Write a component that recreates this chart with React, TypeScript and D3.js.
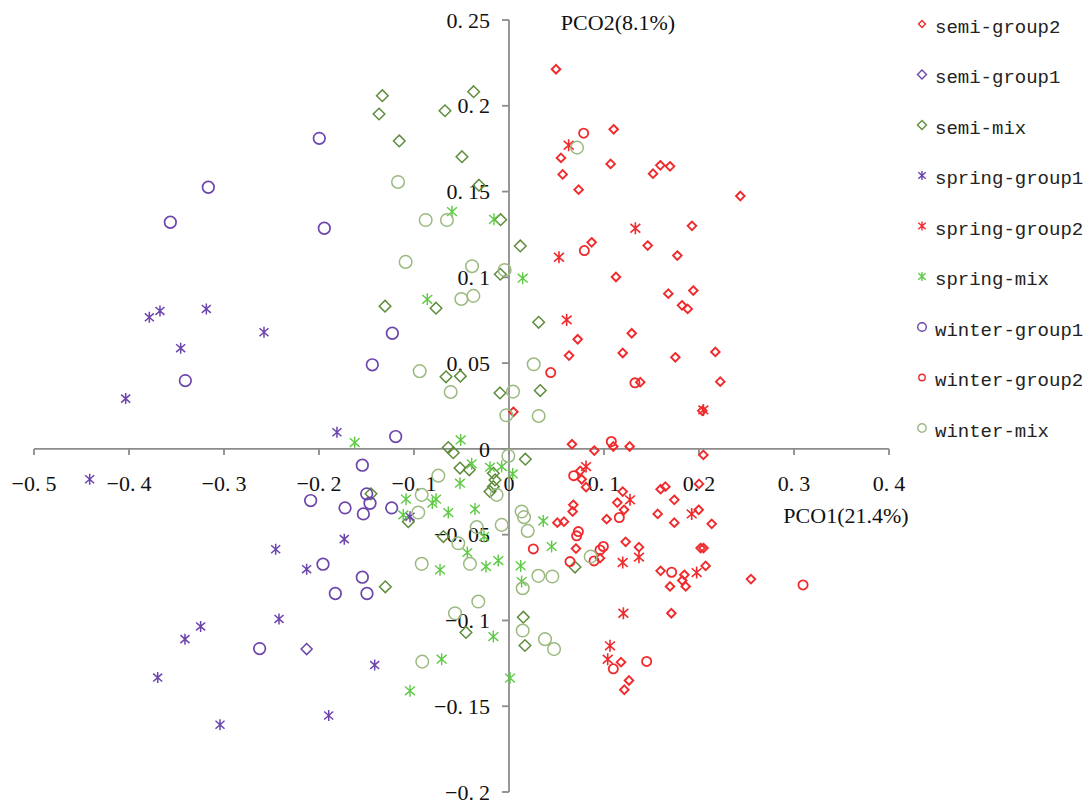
import React from 'react'
import * as d3 from 'd3'

type Pt = [number, number]

// PCO1, PCO2 scores
const semiGroup2: Pt[] = [
  [0.0495, 0.2213], [0.1102, 0.1863], [0.0547, 0.1696], [0.0565, 0.16], [0.0733, 0.1511],
  [0.107, 0.1661], [0.1593, 0.1653], [0.1695, 0.1647], [0.1516, 0.1604], [0.2435, 0.1474],
  [0.1926, 0.13], [0.087, 0.1204], [0.146, 0.1185], [0.1772, 0.1127], [0.1126, 0.1002],
  [0.194, 0.0923], [0.1677, 0.0905], [0.1821, 0.0837], [0.1881, 0.0816], [0.1292, 0.0674],
  [0.0723, 0.0639], [0.0632, 0.0544], [0.1197, 0.0559], [0.1751, 0.0534], [0.2172, 0.0565],
  [0.2224, 0.0392], [0.1382, 0.0389], [0.0046, 0.0216], [0.2035, 0.0222], [0.0663, 0.0027],
  [0.0898, -0.001], [0.1098, 0.0014], [0.127, 0.0014], [0.2046, -0.0035], [0.075, -0.0128],
  [0.0765, -0.0177], [0.0811, -0.0223], [0.1197, -0.0249], [0.114, -0.0313], [0.1211, -0.0355],
  [0.1028, -0.041], [0.0677, -0.0326], [0.067, -0.0365], [0.0509, -0.043], [0.0579, -0.0424],
  [0.1596, -0.0235], [0.1646, -0.022], [0.174, -0.0297], [0.2, -0.0204], [0.1997, -0.0355],
  [0.1565, -0.0379], [0.174, -0.043], [0.2134, -0.0437], [0.0705, -0.0581], [0.1228, -0.0542],
  [0.1368, -0.0573], [0.2017, -0.0578], [0.2047, -0.0578], [0.0958, -0.0637], [0.207, -0.0682],
  [0.1596, -0.0711], [0.1846, -0.0734], [0.1824, -0.0767], [0.186, -0.0802], [0.1695, -0.0802],
  [0.2547, -0.0759], [0.1709, -0.0958], [0.1179, -0.1243], [0.1263, -0.135], [0.1214, -0.1404],
]

const semiGroup1: Pt[] = [[-0.213, -0.1167]]

const semiMix: Pt[] = [
  [-0.1333, 0.2059], [-0.1368, 0.1952], [-0.0372, 0.2082], [-0.0674, 0.1971], [-0.1155, 0.1795],
  [-0.0495, 0.1703], [-0.0316, 0.1537], [-0.0088, 0.1336], [0.0119, 0.1183], [-0.0091, 0.1018],
  [-0.1305, 0.0832], [-0.0768, 0.082], [0.0312, 0.0738], [-0.0663, 0.042], [-0.0512, 0.0424],
  [-0.0095, 0.0326], [0.0329, 0.034], [-0.0639, 0.0008], [-0.0586, -0.0022], [0.0172, -0.006],
  [-0.0516, -0.0112], [-0.0418, -0.0122], [-0.0165, -0.0142], [-0.0147, -0.0181], [-0.0165, -0.022],
  [-0.02, -0.0249], [-0.106, -0.0424], [-0.1453, -0.0262], [-0.1302, -0.0804], [-0.0691, -0.0511],
  [-0.0453, -0.107], [0.0151, -0.0981], [0.0168, -0.1146], [0.0695, -0.0689],
]

const springGroup1: Pt[] = [
  [-0.3786, 0.0767], [-0.3674, 0.0804], [-0.3186, 0.0816], [-0.2579, 0.068], [-0.3456, 0.0587],
  [-0.4035, 0.0293], [-0.1811, 0.0097], [-0.4414, -0.0177], [-0.1734, -0.0526], [-0.2456, -0.0585],
  [-0.213, -0.0701], [-0.2421, -0.0991], [-0.3246, -0.1035], [-0.3411, -0.1109], [-0.1414, -0.126],
  [-0.3698, -0.1333], [-0.1898, -0.1554], [-0.3042, -0.1608], [-0.1042, -0.0395],
]

const springGroup2: Pt[] = [
  [0.0628, 0.177], [0.0526, 0.1117], [0.0607, 0.0752], [0.133, 0.1286], [0.2046, 0.0227],
  [0.0811, -0.0103], [0.1274, -0.0297], [0.1923, -0.0379], [0.1197, -0.0662], [0.1368, -0.0631],
  [0.1975, -0.0721], [0.1204, -0.0958], [0.1063, -0.1148], [0.1039, -0.1226],
]

const springMix: Pt[] = [
  [-0.06, 0.1383], [-0.0158, 0.1338], [0.0144, 0.0995], [-0.086, 0.0872], [-0.1624, 0.0037],
  [-0.0509, 0.0052], [-0.0393, -0.0087], [-0.02, -0.0107], [-0.0077, -0.0103], [0.0039, -0.0146],
  [-0.0516, -0.02], [-0.1084, -0.0293], [-0.0768, -0.0293], [-0.0807, -0.0316], [-0.0639, -0.0371],
  [-0.0358, -0.0351], [-0.1113, -0.0385], [0.0361, -0.042], [0.0449, -0.0569], [-0.0263, -0.0511],
  [-0.0439, -0.0604], [-0.0113, -0.0651], [-0.0726, -0.0705], [-0.0242, -0.0686], [0.0123, -0.0682],
  [0.0133, -0.0773], [-0.0165, -0.1094], [-0.0709, -0.1226], [-0.1042, -0.141], [0.0011, -0.1336],
]

const winterGroup1: Pt[] = [
  [-0.1997, 0.181], [-0.3165, 0.1525], [-0.3565, 0.1321], [-0.1944, 0.1286], [-0.1228, 0.0674],
  [-0.1439, 0.049], [-0.3407, 0.0398], [-0.1193, 0.0072], [-0.1544, -0.0095], [-0.2088, -0.0301],
  [-0.1498, -0.0262], [-0.1463, -0.0317], [-0.1726, -0.0344], [-0.1533, -0.0379], [-0.1235, -0.0344],
  [-0.1958, -0.0672], [-0.1544, -0.0748], [-0.1828, -0.0843], [-0.1495, -0.0843], [-0.2625, -0.1164],
]

const winterGroup2: Pt[] = [
  [0.0786, 0.184], [0.0793, 0.1156], [0.0439, 0.0445], [0.1077, 0.0043], [0.1326, 0.0385],
  [0.0681, -0.0156], [0.073, -0.0482], [0.0712, -0.0507], [0.0895, -0.0653], [0.0993, -0.0569],
  [0.0958, -0.0589], [0.0642, -0.0657], [0.1712, -0.0719], [0.1161, -0.04], [0.1098, -0.1282],
  [0.1449, -0.1239], [0.3095, -0.0793], [0.0256, -0.0583],
]

const winterMix: Pt[] = [
  [0.0716, 0.1756], [-0.1168, 0.1556], [-0.0877, 0.1334], [-0.0653, 0.1334], [-0.1088, 0.109],
  [-0.0389, 0.1065], [-0.0046, 0.1043], [-0.0502, 0.0874], [-0.0375, 0.0892], [-0.094, 0.0453],
  [-0.0614, 0.0332], [0.026, 0.0493], [0.0042, 0.0334], [-0.0028, 0.0196], [0.0312, 0.0192],
  [-0.0007, -0.0041], [-0.0744, -0.0156], [-0.0919, -0.0268], [-0.0955, -0.0371], [-0.013, -0.0268],
  [0.0133, -0.0365], [0.0158, -0.0398], [-0.0077, -0.0443], [0.0197, -0.0478], [-0.034, -0.0456],
  [-0.0534, -0.055], [-0.0919, -0.067], [-0.0411, -0.067], [0.0309, -0.074], [0.0456, -0.0744],
  [-0.0323, -0.089], [-0.0568, -0.0958], [0.0144, -0.0812], [0.0144, -0.1059], [0.0379, -0.1109],
  [0.0474, -0.1167], [-0.0913, -0.124], [0.086, -0.0628],
]

const xTicks = [-0.5, -0.4, -0.3, -0.2, -0.1, 0, 0.1, 0.2, 0.3, 0.4]
const yTicks = [-0.2, -0.15, -0.1, -0.05, 0, 0.05, 0.1, 0.15, 0.2, 0.25]
const xTitle = 'PCO1(21.4%)'
const yTitle = 'PCO2(8.1%)'

const RED = '#f02a2c'
const PURPLE = '#6b44ac'
const DKGREEN = '#5e8d3c'
const GREEN = '#5fca45'
const LTGREEN = '#9bba80'

type Shape = 'diamond' | 'star' | 'circle'
const series: { name: string; data: Pt[]; shape: Shape; color: string; r: number; sw: number; lr: number }[] = [
  { name: 'semi-group2', data: semiGroup2, shape: 'diamond', color: RED, r: 4.3, sw: 1.9, lr: 3.5 },
  { name: 'semi-group1', data: semiGroup1, shape: 'diamond', color: PURPLE, r: 5.5, sw: 1.5, lr: 4.5 },
  { name: 'semi-mix', data: semiMix, shape: 'diamond', color: DKGREEN, r: 5.8, sw: 1.5, lr: 4.5 },
  { name: 'spring-group1', data: springGroup1, shape: 'star', color: PURPLE, r: 5.5, sw: 1.5, lr: 4.5 },
  { name: 'spring-group2', data: springGroup2, shape: 'star', color: RED, r: 6, sw: 1.6, lr: 4.5 },
  { name: 'spring-mix', data: springMix, shape: 'star', color: GREEN, r: 6, sw: 1.4, lr: 4.5 },
  { name: 'winter-group1', data: winterGroup1, shape: 'circle', color: PURPLE, r: 5.8, sw: 1.7, lr: 4.3 },
  { name: 'winter-group2', data: winterGroup2, shape: 'circle', color: RED, r: 4.6, sw: 1.8, lr: 3.2 },
  { name: 'winter-mix', data: winterMix, shape: 'circle', color: LTGREEN, r: 6.3, sw: 1.5, lr: 4.2 },
]

const W = 1089
const H = 805
const x = d3.scaleLinear().domain([-0.5, 0.4]).range([34, 889])
const y = d3.scaleLinear().domain([-0.2, 0.25]).range([792, 20])

function markerPath(shape: Shape, r: number) {
  const p = d3.path()
  if (shape === 'diamond') {
    p.moveTo(0, -r); p.lineTo(r, 0); p.lineTo(0, r); p.lineTo(-r, 0); p.closePath()
  } else if (shape === 'circle') {
    p.arc(0, 0, r, 0, Math.PI * 2)
  } else {
    const dx = r * 0.82, dy = r * 0.72
    p.moveTo(0, -r); p.lineTo(0, r)
    p.moveTo(-dx, -dy); p.lineTo(dx, dy)
    p.moveTo(-dx, dy); p.lineTo(dx, -dy)
  }
  return p.toString()
}

function TickLabel({ v, ...rest }: any) {
  const s = Math.abs(v).toString()
  const sign = v < 0 ? '\u2212' : ''
  const [ip, fp] = s.split('.')
  return (
    <text {...rest}>
      {sign}{ip}{fp ? <>.<tspan dx={5}>{fp}</tspan></> : null}
    </text>
  )
}

export default function App() {
  const x0 = x(0)
  const y0 = y(0)
  const axisColor = '#8c8c8c'
  const font = '"Liberation Serif", "Times New Roman", serif'
  return (
    <svg width={W} height={H} style={{ position: 'absolute', left: 0, top: 0, background: '#fff' }}>
      {/* axes */}
      <g stroke={axisColor} strokeWidth={1.8} fill="none">
        <line x1={x(-0.5)} x2={x(0.4)} y1={y0} y2={y0} />
        {xTicks.map(t => <line key={t} x1={x(t)} x2={x(t)} y1={y0} y2={y0 + 6} />)}
        <line x1={x0} x2={x0} y1={y(0.25)} y2={y(-0.2)} />
        {yTicks.map(t => <line key={t} x1={x0 - 7} x2={x0} y1={y(t)} y2={y(t)} />)}
      </g>
      <g fontFamily={font} fontSize={22} fill="#111">
        {xTicks.map(t => (
          <TickLabel key={t} v={t} x={x(t)} y={y0 + 42} textAnchor="middle" />
        ))}
        {yTicks.map(t => (
          <TickLabel key={t} v={t} x={x0 - 19} y={y(t)} dy="0.35em" textAnchor="end" />
        ))}
        <text x={618} y={22} dy="0.35em" textAnchor="middle">{yTitle}</text>
        <text x={846} y={515} dy="0.35em" textAnchor="middle">{xTitle}</text>
      </g>
      {/* points */}
      {series.map(s => (
        <g key={s.name} fill="none" stroke={s.color} strokeWidth={s.sw}>
          {s.data.map((d, i) => (
            <path key={i} d={markerPath(s.shape, s.r)} transform={`translate(${x(d[0])},${y(d[1])})`} />
          ))}
        </g>
      ))}
      {/* legend */}
      <g fontFamily='"Liberation Mono", "DejaVu Sans Mono", monospace' fontSize={19} fill="#222">
        {series.map((s, i) => {
          const ly = 26 + i * 50.5
          return (
            <g key={s.name}>
              <path d={markerPath(s.shape, s.lr)} transform={`translate(${922},${ly - 2})`} fill="none" stroke={s.color} strokeWidth={1.4} />
              <text x={935} y={ly} dy="0.35em">{s.name}</text>
            </g>
          )
        })}
      </g>
    </svg>
  )
}
